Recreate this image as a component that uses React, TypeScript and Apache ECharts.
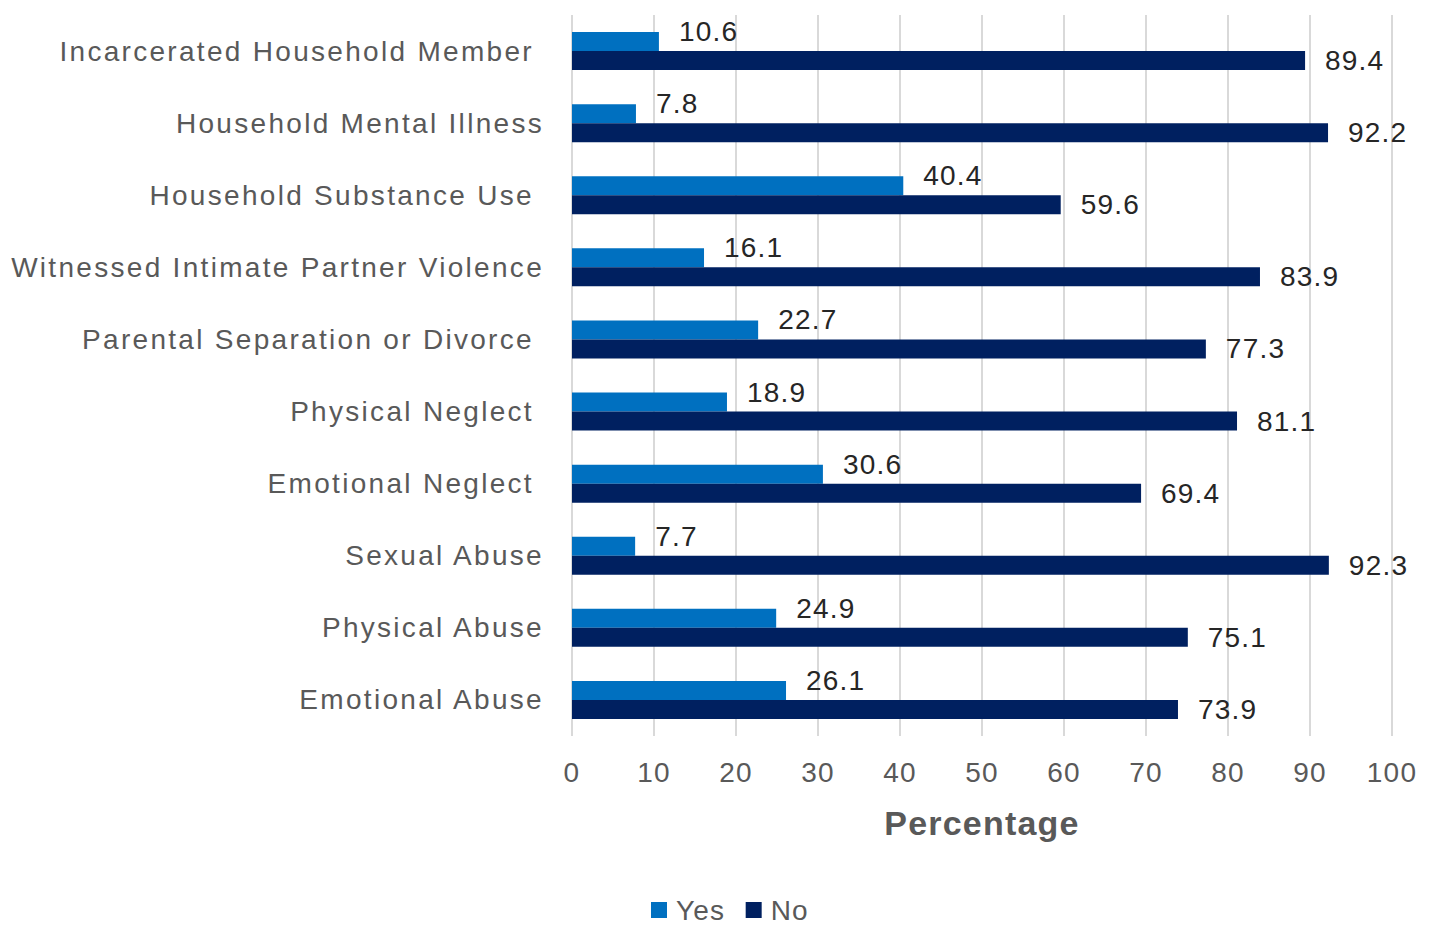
import React, { useEffect, useRef } from "react";
import * as echarts from "echarts";

const categories = [
  "Incarcerated Household Member ",
  "Household Mental Illness",
  "Household Substance Use ",
  "Witnessed Intimate Partner Violence",
  "Parental Separation or Divorce ",
  "Physical Neglect ",
  "Emotional Neglect ",
  "Sexual Abuse",
  "Physical Abuse",
  "Emotional Abuse",
];
const yesValues = [10.6, 7.8, 40.4, 16.1, 22.7, 18.9, 30.6, 7.7, 24.9, 26.1];
const noValues = [89.4, 92.2, 59.6, 83.9, 77.3, 81.1, 69.4, 92.3, 75.1, 73.9];
const seriesNames = ["Yes", "No"];

const FONT = "'Liberation Sans', Arial, Helvetica, sans-serif";

export default function App() {
  const ref = useRef<HTMLDivElement>(null);
  useEffect(() => {
    if (!ref.current) return;
    const chart = echarts.init(ref.current, null, { renderer: "svg" });
    chart.setOption({
      animation: false,
      backgroundColor: "#ffffff",
      textStyle: { fontFamily: FONT },
      grid: { left: 572, right: 37, top: 15, bottom: 192, containLabel: false },
      legend: {
        data: seriesNames,
        left: 646,
        top: 891,
        itemWidth: 16,
        itemHeight: 16,
        itemGap: 24,
        icon: "rect",
        textStyle: {
          fontSize: 28,
          color: "#595959",
          fontFamily: FONT,
          padding: [0, 0, 0, 4],
        },
      },
      xAxis: {
        type: "value",
        min: 0,
        max: 100,
        interval: 10,
        axisLine: { show: false },
        axisTick: { show: false },
        splitLine: { show: true, lineStyle: { color: "#d9d9d9", width: 2 } },
        axisLabel: { fontSize: 28, color: "#595959", margin: 22, fontFamily: FONT },
        name: "Percentage",
        nameLocation: "middle",
        nameGap: 70,
        nameTextStyle: { fontSize: 34, fontWeight: "bold", color: "#595959", fontFamily: FONT },
      },
      yAxis: {
        type: "category",
        inverse: true,
        data: categories,
        axisLine: { show: false },
        axisTick: { show: false },
        axisLabel: { fontSize: 28, color: "#595959", margin: 28, fontFamily: FONT },
      },
      series: [
        {
          name: seriesNames[0],
          type: "bar",
          data: yesValues,
          barWidth: 19,
          barGap: "0%",
          itemStyle: { color: "#0070C0" },
          label: {
            show: true,
            position: "right",
            distance: 20,
            offset: [0, -10],
            fontSize: 28,
            color: "#262626",
            fontFamily: FONT,
          },
        },
        {
          name: seriesNames[1],
          type: "bar",
          data: noValues,
          barWidth: 19,
          barGap: "0%",
          itemStyle: { color: "#002060" },
          label: {
            show: true,
            position: "right",
            distance: 20,
            fontSize: 28,
            color: "#262626",
            fontFamily: FONT,
          },
        },
      ],
    });
    return () => chart.dispose();
  }, []);
  return (
    <>
      <style>{`
        #chart text { letter-spacing: 1.2px; white-space: pre; }
        #chart text[text-anchor="end"] { letter-spacing: 2.3px; }
      `}</style>
      <div
        id="chart"
        ref={ref}
        style={{ position: "fixed", left: 0, top: 0, width: 1429, height: 928 }}
      />
    </>
  );
}
